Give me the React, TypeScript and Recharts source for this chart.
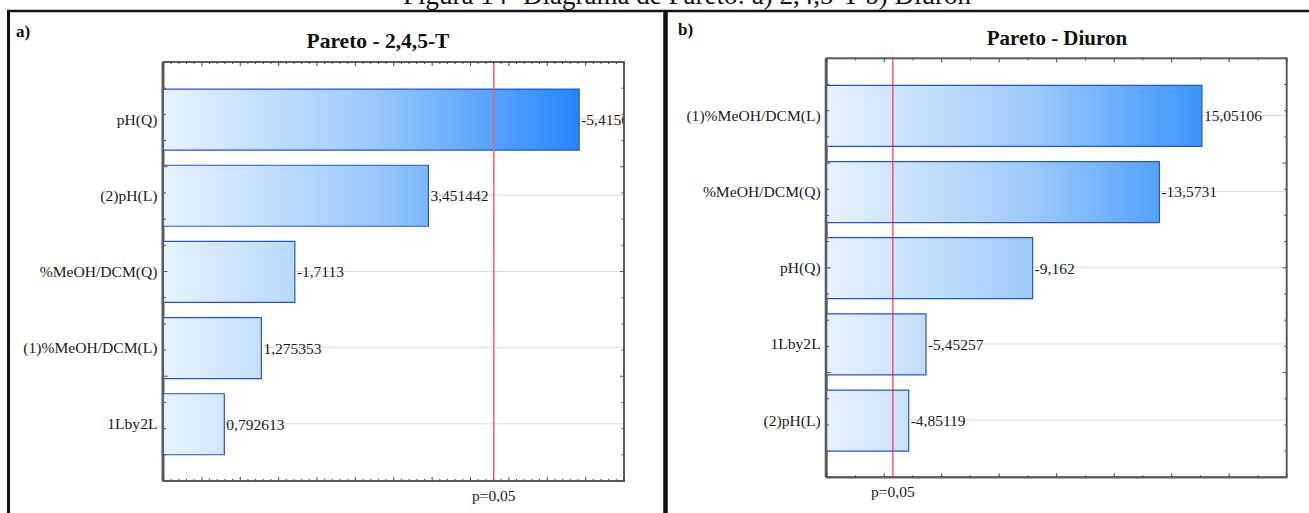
import React from 'react';
import { BarChart, Bar, XAxis, YAxis, CartesianGrid, ReferenceLine, LabelList } from 'recharts';

const FONT = '"Liberation Serif", "Times New Roman", serif';

const caption = 'Figura 14- Diagrama de Pareto: a) 2,4,5-T  b) Diuron';

const titleA = 'Pareto - 2,4,5-T';
const factorsA = ['pH(Q)', '(2)pH(L)', '%MeOH/DCM(Q)', '(1)%MeOH/DCM(L)', '1Lby2L'];
const effectsA = [-5.4156, 3.451442, -1.7113, 1.275353, 0.792613];
const domainA: [number, number] = [0, 6];
const pCritA = 4.303;

const titleB = 'Pareto - Diuron';
const factorsB = ['(1)%MeOH/DCM(L)', '%MeOH/DCM(Q)', 'pH(Q)', '1Lby2L', '(2)pH(L)'];
const effectsB = [15.05106, -13.5731, -9.162, -5.45257, -4.85119];
const domainB: [number, number] = [2, 18];
const pCritB = 4.303;

const pLabel = 'p=0,05';

const H = 513;

type Box = { top: number; right: number; bottom: number; left: number };

function range(start: number, end: number, step: number) {
  const out: number[] = [];
  const n = Math.round((end - start) / step);
  for (let i = 0; i <= n; i++) out.push(+(start + i * step).toFixed(4));
  return out;
}

function Panel(props: {
  id: string;
  width: number;
  plot: Box; // plot-area edges (distances from the chart's edges)
  factors: string[];
  effects: number[];
  domain: [number, number];
  xStep: number;
  majorEvery: number;
  pCrit: number;
  redColor: string;
  redWidth: number;
}) {
  const { id, width, plot, factors, effects, domain, xStep, majorEvery, pCrit, redColor, redWidth } = props;
  const data = factors.map((f, i) => ({
    factor: f,
    value: Math.abs(effects[i]),
    label: String(effects[i]).replace('.', ','),
  }));
  // each axis takes 1px (0-size axes are not drawn)
  const margin = { top: plot.top, right: plot.right, bottom: plot.bottom - 1, left: plot.left - 2 };
  const plotLeft = plot.left;
  const plotRight = width - plot.right;
  const plotTop = plot.top;
  const plotBottom = H - plot.bottom;
  const plotH = plotBottom - plotTop;
  const n = factors.length;
  const pad = (plotH * 0.25) / (n + 0.5);
  const yDomain: [number, number] = [-0.75, n - 1 + 0.75];
  const yTicks = range(yDomain[0], yDomain[1], 0.25);
  const xTicks = range(domain[0], domain[1], xStep);
  const isMajorX = (v: number) => {
    const r = v / majorEvery;
    return Math.abs(r - Math.round(r)) < 1e-6;
  };
  const isMajorY = (v: number) => Math.abs(v - Math.round(v)) < 1e-6;
  const frameColor = '#5c5c5c';
  const frame = { stroke: frameColor, strokeWidth: 2 };

  // bottom axis ticks (inward), mirrored on the top frame edge
  const xTick = (p: any) => {
    const len = isMajorX(p.payload.value) ? 4 : 2;
    return (
      <g>
        <line x1={p.x} x2={p.x} y1={plotBottom} y2={plotBottom - len} stroke="#444" strokeWidth={1} />
        <line x1={p.x} x2={p.x} y1={plotTop} y2={plotTop + len} stroke="#444" strokeWidth={1} />
      </g>
    );
  };
  // left axis ticks (inward), mirrored on the right frame edge
  const yTick = (p: any) => {
    const len = isMajorY(p.payload.value) ? 4 : 2.5;
    if (!(p.y >= plotTop - 0.5 && p.y <= plotBottom + 0.5)) return <g />;
    return (
      <g>
        <line x1={plotLeft} x2={plotLeft + len} y1={p.y} y2={p.y} stroke="#555" strokeWidth={1} />
        <line x1={plotRight} x2={plotRight - len} y1={p.y} y2={p.y} stroke="#555" strokeWidth={1} />
      </g>
    );
  };
  const catTick = (p: any) => (
    <text x={plotLeft - 6} y={p.y} dy="0.35em" textAnchor="end" fontFamily={FONT} fontSize={15.6} fill="#1a1a1a">
      {p.payload.value}
    </text>
  );
  const valueLabel = (p: any) => {
    const x = Number(p.x) + Number(p.width) + 2;
    const y = Number(p.y) + Number(p.height) / 2;
    return (
      <svg x={0} y={0} width={plotRight - 1} height={H} overflow="hidden">
        <text x={x} y={y} dy="0.35em" textAnchor="start" fontFamily={FONT} fontSize={15.5} fill="#1a1a1a">
          {p.value}
        </text>
      </svg>
    );
  };

  return (
    <BarChart width={width} height={H} data={data} layout="vertical" margin={margin} barSize={61}>
      <defs>
        <linearGradient id={id + 'grad'} gradientUnits="userSpaceOnUse" x1={plotLeft} y1={0} x2={plotRight} y2={0}>
          <stop offset="0" stopColor="#e8f3fe" />
          <stop offset="0.45" stopColor="#9ccafb" />
          <stop offset="1" stopColor="#0a78ff" />
        </linearGradient>
      </defs>
      <CartesianGrid horizontal vertical={false} stroke="#dcdcdc" />
      <XAxis
        type="number"
        domain={domain}
        allowDataOverflow
        ticks={xTicks}
        interval={0}
        height={1}
        tickSize={0}
        tickMargin={0}
        tickLine={false}
        axisLine={frame}
        tick={xTick}
      />
      <YAxis
        type="category"
        dataKey="factor"
        width={1}
        tickSize={0}
        tickMargin={0}
        tickLine={false}
        axisLine={false}
        interval={0}
        padding={{ top: pad, bottom: pad }}
        tick={catTick}
      />
      <YAxis
        yAxisId="minorL"
        type="number"
        reversed
        domain={yDomain}
        allowDataOverflow
        ticks={yTicks}
        interval={0}
        width={1}
        tickSize={0}
        tickMargin={0}
        tickLine={false}
        axisLine={frame}
        tick={yTick}
      />
      <Bar dataKey="value" fill={`url(#${id}grad)`} stroke="#2257d4" strokeWidth={1.2} isAnimationActive={false}>
        <LabelList dataKey="label" content={valueLabel} />
      </Bar>
      <ReferenceLine
        x={pCrit}
        stroke={redColor}
        strokeWidth={redWidth}
        label={{ value: pLabel, position: 'bottom', offset: 9, fill: '#1a1a1a', fontSize: 15.5, fontFamily: FONT }}
      />
      <rect
        x={plotLeft}
        y={plotTop}
        width={plotRight - plotLeft}
        height={plotH}
        fill="none"
        stroke={frameColor}
        strokeWidth={2}
      />
    </BarChart>
  );
}

export default function App() {
  return (
    <div style={{ position: 'absolute', left: 0, top: 0, width: 1309, height: H, background: '#fff', overflow: 'hidden' }}>
      <div style={{ position: 'absolute', left: 0, top: 0 }}>
        <Panel
          id="a"
          width={663}
          plot={{ top: 62, right: 39, bottom: 32, left: 163.5 }}
          factors={factorsA}
          effects={effectsA}
          domain={domainA}
          xStep={0.1}
          majorEvery={0.5}
          pCrit={pCritA}
          redColor="#f26262"
          redWidth={1.5}
        />
      </div>
      <div style={{ position: 'absolute', left: 667, top: 0 }}>
        <Panel
          id="b"
          width={642}
          plot={{ top: 58.3, right: 22.3, bottom: 35.7, left: 159.7 }}
          factors={factorsB}
          effects={effectsB}
          domain={domainB}
          xStep={1}
          majorEvery={2}
          pCrit={pCritB}
          redColor="#ee1111"
          redWidth={1}
        />
      </div>
      <svg
        width={1309}
        height={H}
        style={{ position: 'absolute', left: 0, top: 0, pointerEvents: 'none' }}
        fontFamily={FONT}
      >
        {/* header bands of each panel (blank background behind the titles) */}
        <rect x={10} y={13} width={653} height={46} fill="#fff" />
        <rect x={668} y={13} width={641} height={43} fill="#fff" />
        <text x={687} y={4} textAnchor="middle" fontSize={27} fill="#111">
          {caption}
        </text>
        <line x1={7} x2={1309} y1={11} y2={11} stroke="#111" strokeWidth={2.5} />
        <line x1={8.5} x2={8.5} y1={10} y2={H} stroke="#111" strokeWidth={3} />
        <line x1={665.5} x2={665.5} y1={12} y2={H} stroke="#111" strokeWidth={4.5} />
        <text x={16} y={37} fontSize={17} fontWeight="bold" fill="#111">
          a)
        </text>
        <text x={678} y={35} fontSize={17} fontWeight="bold" fill="#111">
          b)
        </text>
        <text x={378} y={48} textAnchor="middle" fontSize={21.5} fontWeight="bold" fill="#111">
          {titleA}
        </text>
        <text x={1057} y={45} textAnchor="middle" fontSize={21} fontWeight="bold" fill="#111">
          {titleB}
        </text>
      </svg>
    </div>
  );
}
